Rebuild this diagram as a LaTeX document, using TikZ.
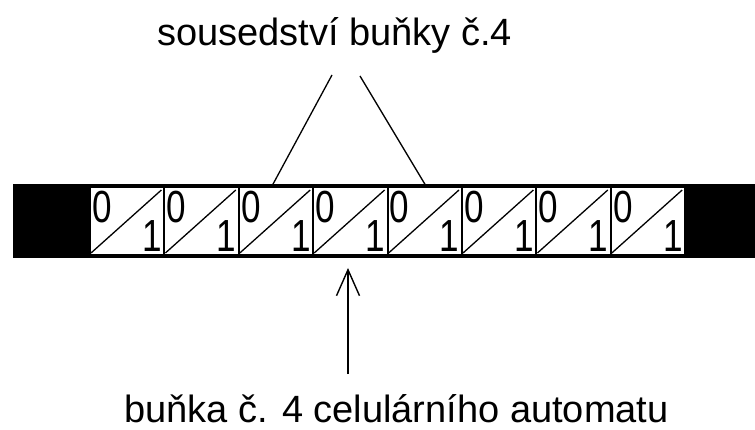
\documentclass[tikz,border=0pt]{standalone}
\usepackage{fontspec}
\setmainfont{Liberation Sans}
\usetikzlibrary{arrows.meta}
\begin{document}
\begin{tikzpicture}[x=1pt,y=-1pt,
  caption/.style={font=\fontsize{38}{40}\selectfont, inner sep=0pt, anchor=base},
  cellbox/.style={draw, line width=2pt, fill=white, minimum width=74.4pt,
    minimum height=68pt, inner sep=0pt, outer sep=0pt, anchor=north west},
  digit/.style={font=\fontsize{45}{47}\selectfont, inner sep=0pt},
  thin line/.style={line width=1.3pt},
  pointer/.style={line width=1.6pt, -{Straight Barb[length=26pt,width=23pt,line width=1.4pt]}}]
  \useasboundingbox (0,0) rectangle (755,430);

  % tape: black end blocks and the outer border lines
  \fill (13,185) rectangle (90,257);
  \fill (685,185) rectangle (755,257);
  \draw[line width=1.2pt] (13,185) -- (755,185);
  \draw[line width=1.2pt] (13,257) -- (755,257);

  % the eight cells, each holding a 0/1 state
  \foreach \i in {1,...,8} {
    \pgfmathsetmacro{\xl}{90+74.4*(\i-1)}
    \node[cellbox] (c\i) at (\xl,187) {};
    \draw[line width=1.3pt] ([shift={(1,-2)}]c\i.south west) -- ([shift={(-3,3)}]c\i.north east);
    \node[digit, anchor=base west] (z\i) at (\xl+2,223) {\scalebox{0.78}[1]{0}};
    \node[digit, anchor=base east] (o\i) at (\xl+72,252) {\scalebox{0.78}[1]{1}};
  }

  % neighbourhood label with its two lines
  \node[caption] (nb) at (334.5,46) {sousedství buňky č.4};
  \coordinate (nbl) at (332,75);
  \coordinate (nbr) at (360,76);
  \coordinate (c3top) at (272,186);
  \coordinate (c5top) at (426,186);
  \draw[thin line] (nbl) -- (c3top);
  \draw[thin line] (nbr) -- (c5top);

  % cell label with its arrow
  \node[caption] (cl) at (396.5,422) {buňka č. 4 celulárního automatu};
  \coordinate (arrfoot) at (348,374);
  \coordinate (arrtip) at (348,268);
  \draw[pointer] (arrfoot) -- (arrtip);
\end{tikzpicture}
\end{document}
